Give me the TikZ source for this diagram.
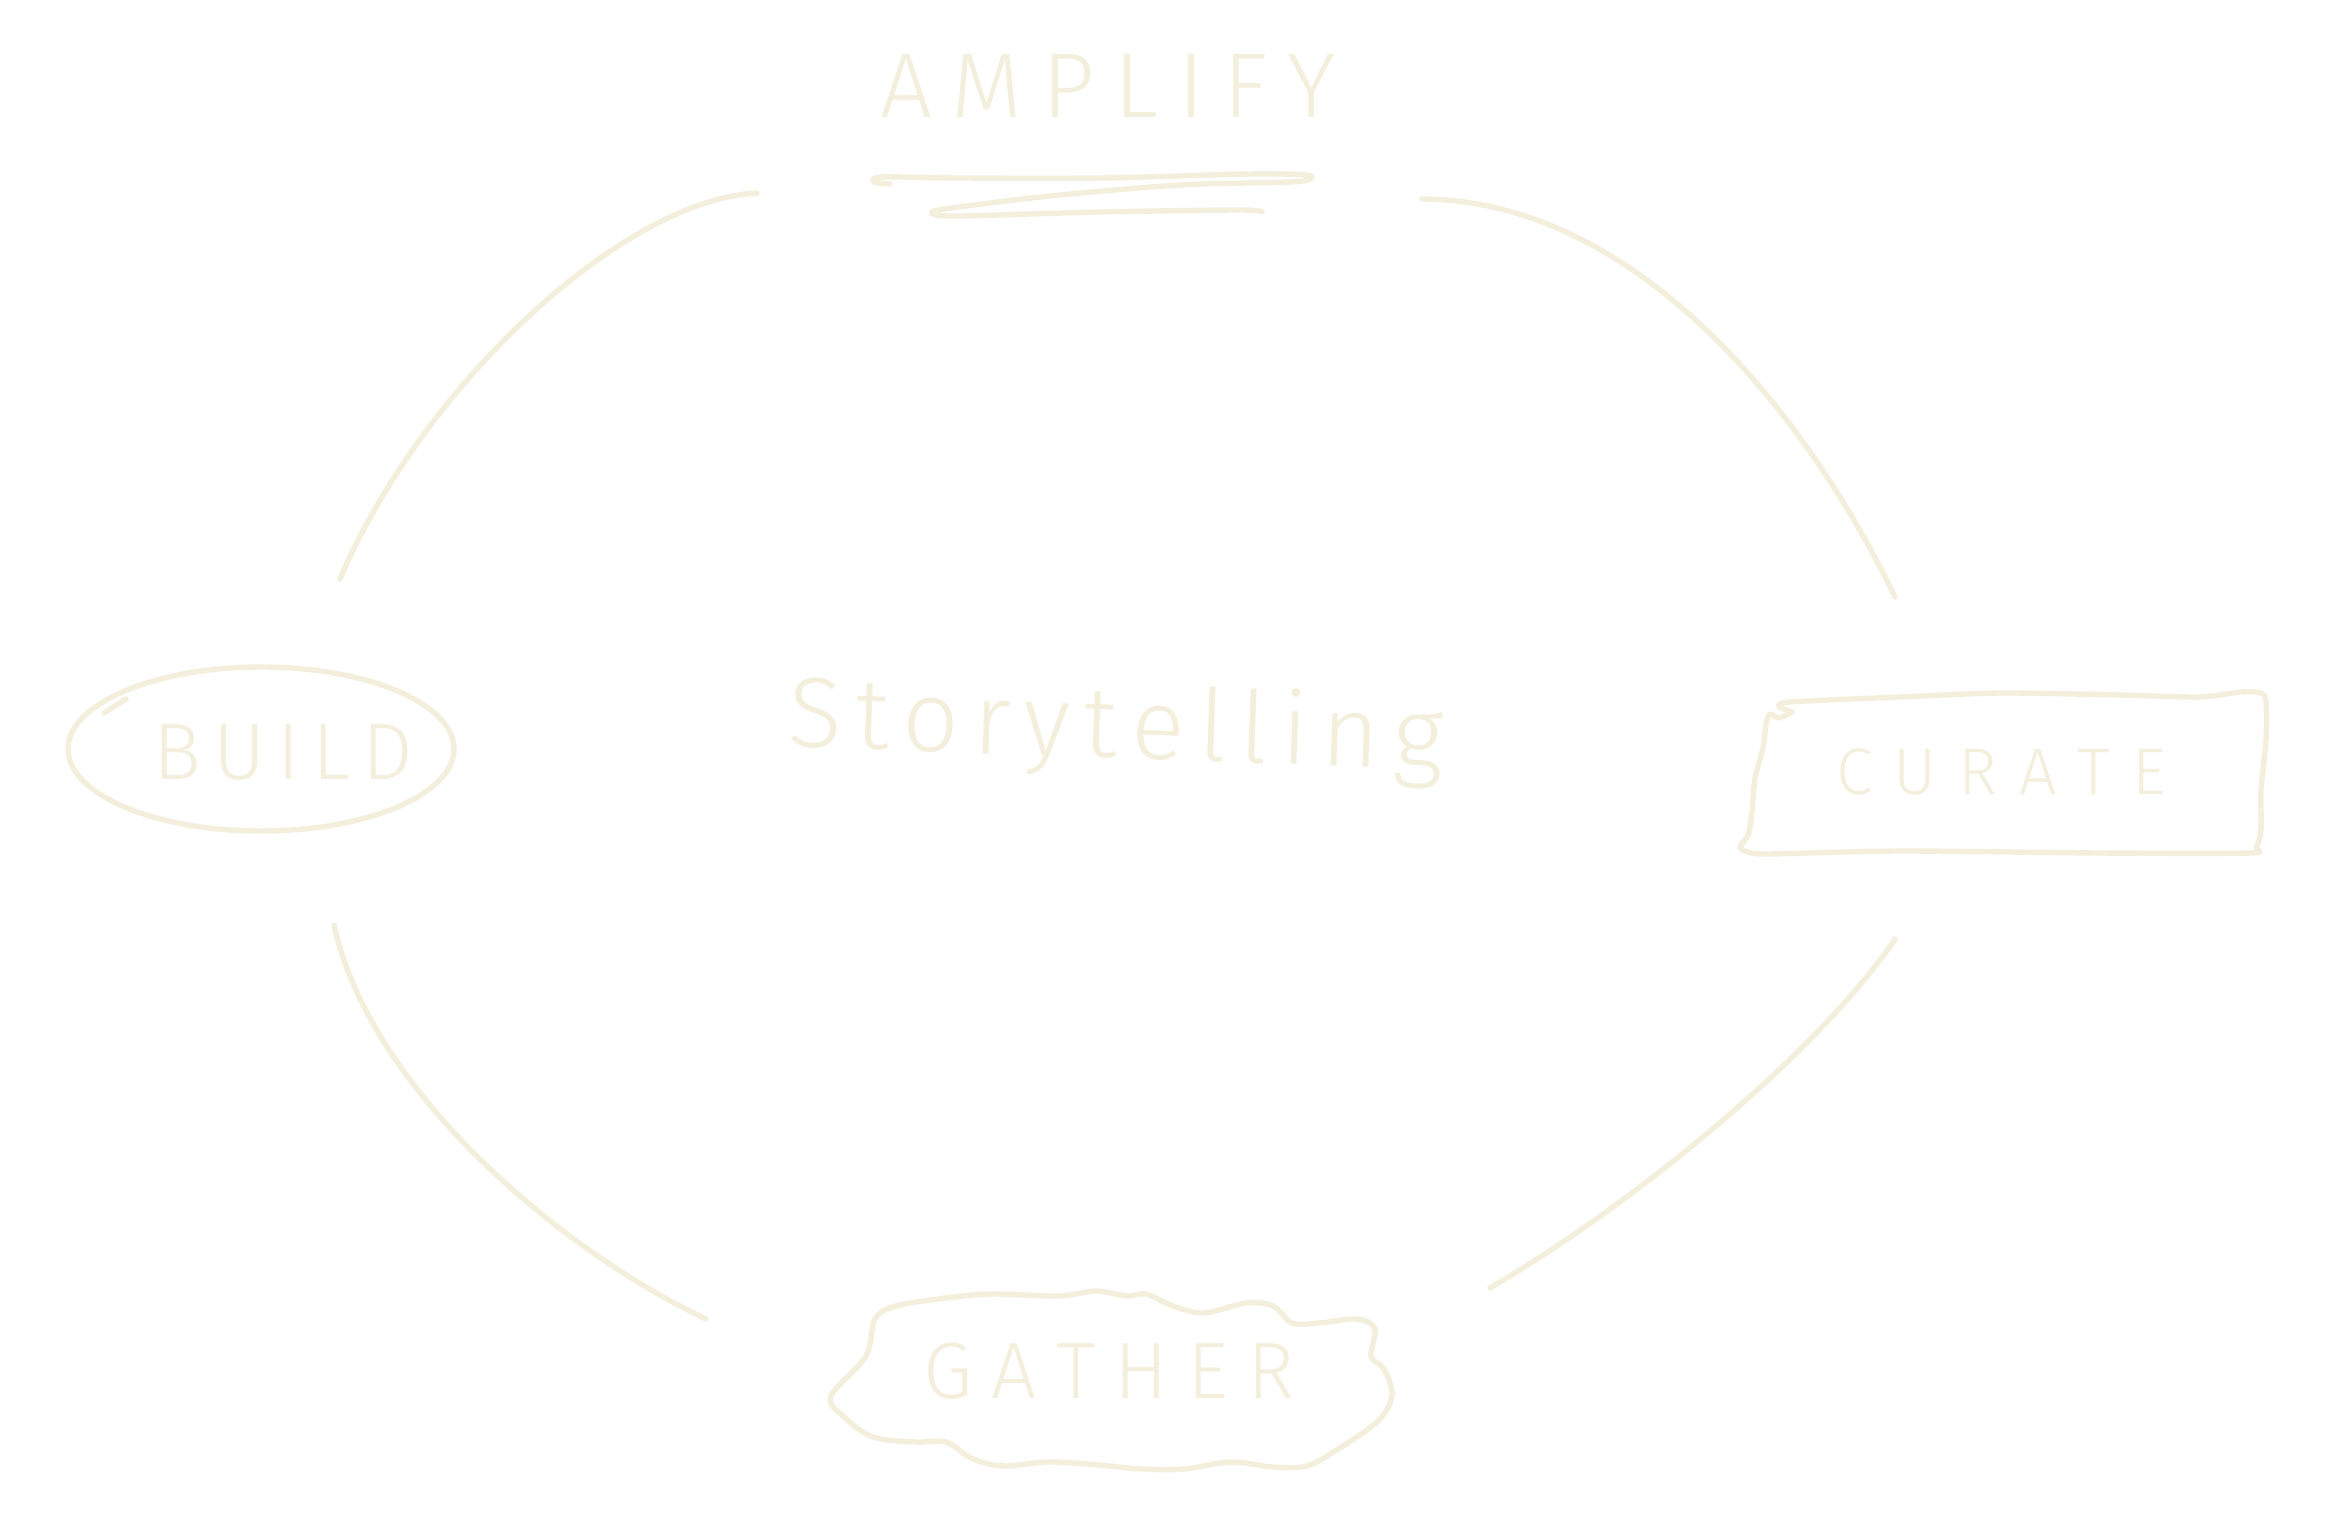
\documentclass[tikz,border=0pt]{standalone}
\usepackage{fontspec}
\setmainfont{Fira Sans}[UprightFont={* Light}]
\definecolor{skc}{RGB}{244,239,220}
\tikzset{
  sk/.style={draw=skc, line width=2.7pt, line cap=round, line join=round},
  lbl/.style={inner sep=0pt, text=skc},
}
\newcommand{\spreadit}[2]{\makebox[#1][s]{#2}}
\begin{document}
\begin{tikzpicture}[x=0.5pt,y=-0.5pt]
\useasboundingbox[fill=white] (0,0) rectangle (2327,1536);

% ---- labels ----
\node[lbl, anchor=base] (amplify) at (1108,118)
  {\fontsize{46pt}{50pt}\selectfont\spreadit{228pt}{A\hfill M\hfill P\hfill L\hfill I\hfill F\hfill Y}};
\node[lbl, anchor=base] (build) at (283,779)
  {\fontsize{40pt}{44pt}\selectfont\spreadit{130pt}{B\hfill U\hfill I\hfill L\hfill D}};
\node[lbl, anchor=base] (curate) at (2001,794)
  {\fontsize{33pt}{36pt}\selectfont\spreadit{165pt}{C\hfill U\hfill R\hfill A\hfill T\hfill E}};
\node[lbl, anchor=base] (gather) at (1109,1398)
  {\fontsize{40pt}{44pt}\selectfont\spreadit{186pt}{G\hfill A\hfill T\hfill H\hfill E\hfill R}};
\node[lbl, anchor=base, rotate=-2] (story) at (1115,758)
  {\fontsize{50pt}{54pt}\selectfont\spreadit{328pt}{S\hfill t\hfill o\hfill r\hfill y\hfill t\hfill e\hfill l\hfill l\hfill i\hfill n\hfill g}};

% ---- underline of AMPLIFY ----
\draw[sk] plot[smooth, tension=0.5] coordinates {(890,184) (874,182) (882,177) (960,178) (1100,178) (1250,174) (1306,175) (1310,179) (1290,182) (1180,185) (1050,196) (945,209) (933,214) (960,216) (1100,212) (1240,210) (1262,212)};

% ---- BUILD ellipse ----
\draw[sk] (261,749) ellipse [x radius=96.5pt, y radius=41pt];
\draw[sk] (104,713) -- (126,699);

% ---- CURATE box ----
\draw[sk] plot[smooth, tension=0.45] coordinates {(1792,712) (1779,718) (1770,714) (1766,724) (1763,748) (1755,778) (1752,812) (1748,835) (1740,847) (1748,852) (1768,854) (1900,851) (2100,853) (2250,853) (2256,848) (2261,830) (2261,790) (2266,740) (2266,702) (2261,693) (2240,692) (2200,697) (2120,695) (2000,693) (1900,697) (1790,702) (1779,707) (1790,711)};

% ---- GATHER cloud ----
\draw[sk] plot[smooth cycle, tension=0.55] coordinates {(831,1396) (866,1356) (875,1319) (896,1306) (946,1298) (992,1294) (1058,1296) (1096,1291) (1127,1296) (1146,1294) (1173,1306) (1204,1313) (1246,1303) (1273,1306) (1292,1323) (1319,1323) (1357,1319) (1375,1329) (1371,1356) (1384,1369) (1392,1396) (1377,1422) (1338,1449) (1307,1466) (1273,1467) (1231,1462) (1184,1469) (1142,1469) (1088,1464) (1046,1462) (1004,1466) (973,1459) (946,1442) (916,1442) (873,1437) (843,1416)};

% ---- connectors ----
\coordinate (b1) at (340,579);
\coordinate (a1) at (757,193);
\coordinate (a2) at (1422,199);
\coordinate (c2) at (1895,597);
\coordinate (c3) at (1895,939);
\coordinate (g3) at (1490,1288);
\coordinate (g4) at (706,1319);
\coordinate (b4) at (334,925);

\draw[sk] (b1) .. controls (420,390) and (620,200) .. (a1);
\draw[sk] (a2) .. controls (1640,200) and (1810,420) .. (c2);
\draw[sk] (c3) .. controls (1820,1050) and (1640,1200) .. (g3);
\draw[sk] (g4) .. controls (560,1250) and (370,1090) .. (b4);
\end{tikzpicture}
\end{document}
